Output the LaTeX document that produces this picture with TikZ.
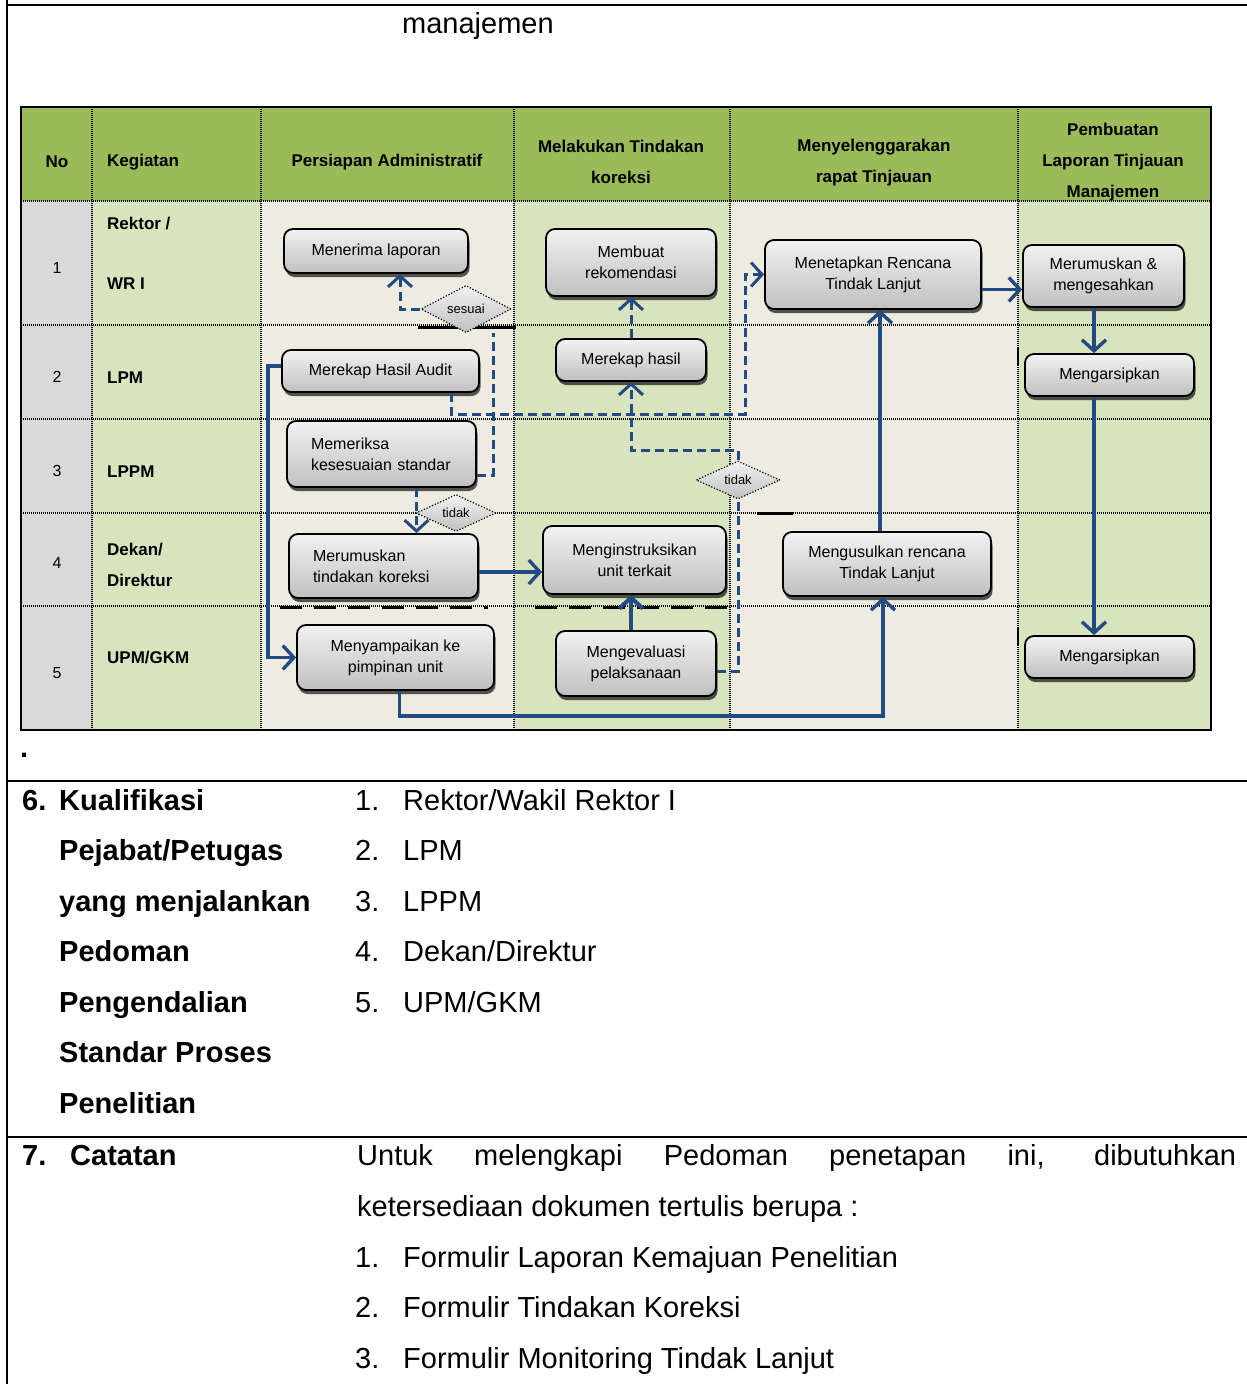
\documentclass[tikz,border=0pt]{standalone}
\usepackage{fontspec}
\setmainfont{Liberation Sans}
\usetikzlibrary{arrows.meta,shapes.geometric,shadows,calc}
\definecolor{hdr}{RGB}{155,187,89}
\definecolor{lgreen}{RGB}{215,228,189}
\definecolor{beige}{RGB}{238,236,225}
\definecolor{lgray}{RGB}{217,217,217}
\definecolor{flow}{RGB}{35,75,130}
\definecolor{boxtop}{RGB}{242,242,242}
\definecolor{boxbot}{RGB}{192,192,192}
\begin{document}
\begin{tikzpicture}[x=1pt,y=-1pt,
  gridline/.style={line width=1.1pt, dash pattern=on 1pt off 1pt},
  box/.style={draw=black, line width=1.8pt, rounded corners=9pt, top color=boxtop, bottom color=boxbot,
    align=center, font=\fontsize{16}{21}\selectfont, inner sep=0pt,
    drop shadow={shadow xshift=1.5pt, shadow yshift=-4pt, opacity=0.65, fill=black}},
  dia/.style={diamond, draw=black, line width=1.2pt, dash pattern=on 1.2pt off 1.8pt, top color=boxtop, bottom color=boxbot,
    inner sep=0pt, font=\fontsize{13}{15}\selectfont},
  hd/.style={font=\bfseries\fontsize{17}{31}\selectfont, align=center, inner sep=0pt},
  rl/.style={font=\bfseries\fontsize{17}{20}\selectfont, anchor=west, inner sep=0pt},
  num/.style={font=\fontsize{16}{20}\selectfont, inner sep=0pt},
  conn/.style={draw=flow, line width=3.4pt, -{Straight Barb[length=11pt,width=24pt]}},
  dconn/.style={conn, line width=3pt, dash pattern=on 9pt off 5pt},
  dplain/.style={draw=flow, line width=3pt, dash pattern=on 9pt off 5pt},
  artifact/.style={draw=black, line width=3pt},
  big/.style={font=\fontsize{29}{35}\selectfont, inner sep=0pt, anchor=base west},
  bigb/.style={font=\bfseries\fontsize{29}{35}\selectfont, inner sep=0pt, anchor=base west}
]
\useasboundingbox (0,0) rectangle (1247,1384);
\fill[white] (0,0) rectangle (1247,1384);

% outer frame
\draw[line width=2pt] (7,0) -- (7,1384);
\draw[line width=2pt] (7,5) -- (1247,5);
\draw[line width=2pt] (7,781) -- (1247,781);
\draw[line width=2pt] (7,1137) -- (1247,1137);

\node[font=\fontsize{29}{35}\selectfont, inner sep=0pt, anchor=base west] (mgm) at (402,33) {manajemen};

% table background
\fill[hdr] (21,107) rectangle (1211,201);
\fill[lgray] (21,201) rectangle (92,730);
\fill[lgreen] (92,201) rectangle (261,730);
\fill[beige] (261,201) rectangle (514,730);
\fill[lgreen] (514,201) rectangle (730,730);
\fill[beige] (730,201) rectangle (1018,730);
\fill[lgreen] (1018,201) rectangle (1211,730);
\foreach \y in {201,325,419,513,606} \draw[gridline] (21,\y) -- (1211,\y);
\foreach \x in {92,261,514,730,1018} \draw[gridline] (\x,107) -- (\x,730);
\draw[line width=2.2pt] (21,107) rectangle (1211,730);

% artifacts (black bars on borders)
\draw[artifact] (418,327) -- (516,327);
\draw[artifact] (436,513) -- (418,513);
\draw[artifact] (757,513) -- (793,513);
\draw[artifact, dash pattern=on 22pt off 12pt] (280,607) -- (488,607);
\draw[artifact, dash pattern=on 22pt off 12pt] (535,607) -- (738,607);
\draw[artifact, line width=2pt] (1018,348) -- (1018,366);
\draw[artifact, line width=2pt] (1018,628) -- (1018,645);

% header
\node[hd] (hno) at (57,162) {No};
\node[hd, anchor=west] (hkg) at (107,162) {Kegiatan};
\node[hd] (hpa) at (387,162) {Persiapan Administratif};
\node[hd] (hmt) at (621,162) {Melakukan Tindakan\\koreksi};
\node[hd] (hmr) at (874,163) {Menyelenggarakan\\rapat Tinjauan};
\node[hd] (hpl) at (1113,162) {Pembuatan\\Laporan Tinjauan\\Manajemen};

% row labels
\node[num] (n1) at (57,268) {1};
\node[num] (n2) at (57,377) {2};
\node[num] (n3) at (57,471) {3};
\node[num] (n4) at (57,563) {4};
\node[num] (n5) at (57,673) {5};
\node[rl] (r1a) at (107,224) {Rektor /};
\node[rl] (r1b) at (107,284) {WR I};
\node[rl] (r2) at (107,378) {LPM};
\node[rl] (r3) at (107,472) {LPPM};
\node[rl] (r4a) at (107,550) {Dekan/};
\node[rl] (r4b) at (107,580) {Direktur};
\node[rl] (r5) at (107,658) {UPM/GKM};

% boxes
\node[box, minimum width=184pt, minimum height=44pt] (ml) at (376,251) {Menerima laporan};
\node[box, minimum width=170pt, minimum height=67pt] (mr) at (631,262.5) {Membuat\\rekomendasi};
\node[box, minimum width=216pt, minimum height=69pt] (mt) at (873,274.5) {Menetapkan Rencana\\Tindak Lanjut};
\node[box, minimum width=161pt, minimum height=62pt] (mm) at (1103.5,276) {Merumuskan \&\\mengesahkan};
\node[box, minimum width=197pt, minimum height=42pt] (mha) at (380.5,371) {Merekap Hasil Audit};
\node[box, minimum width=150pt, minimum height=42pt] (mh) at (631,360) {Merekap hasil};
\node[box, minimum width=169pt, minimum height=42pt] (ma1) at (1109.5,375) {Mengarsipkan};
\node[box, minimum width=189pt, minimum height=66pt, text width=141pt, align=left] (mk) at (381.5,454) {Memeriksa\\kesesuaian standar};
\node[box, minimum width=189pt, minimum height=64pt, text width=141pt, align=left] (mtk) at (383.5,566) {Merumuskan\\tindakan koreksi};
\node[box, minimum width=183pt, minimum height=68pt] (mi) at (634.5,560) {Menginstruksikan\\unit terkait};
\node[box, minimum width=208pt, minimum height=64pt] (mu) at (887,564) {Mengusulkan rencana\\Tindak Lanjut};
\node[box, minimum width=197pt, minimum height=65pt] (ms) at (395.5,657.5) {Menyampaikan ke\\pimpinan unit};
\node[box, minimum width=160pt, minimum height=65pt] (me) at (636,663.5) {Mengevaluasi\\pelaksanaan};
\node[box, minimum width=169pt, minimum height=42pt] (ma2) at (1109.5,657) {Mengarsipkan};

% diamonds
\node[dia, minimum width=90pt, minimum height=36pt] (ses) at (466,309) {sesuai};
\node[dia, minimum width=80pt, minimum height=30pt] (td1) at (456,513) {tidak};
\node[dia, minimum width=84pt, minimum height=38pt] (td2) at (738,480) {tidak};

% coordinates
\coordinate (c1) at (745,414);
\coordinate (c2) at (631,450);
\coordinate (c3) at (268,600);
\coordinate (c4) at (883,716);
\coordinate (c5) at (1094,330);

% dashed connectors
\draw[dconn] (ses.west) -| ([xshift=24pt]ml.south);
\draw[dplain] ([yshift=-21pt]mk.east) -| ([xshift=27pt]ses.south);
\draw[dconn] ([xshift=71pt]mha.south) |- (c1) |- (mt.west);
\draw[dconn] (mh.north) -- (mh.north |- mr.south);
\draw[dconn] (td2.north) |- (c2) -- (mh.south);
\draw[dplain] ([yshift=-8pt]me.east) -| (td2.south);
\draw[dconn] ([xshift=35pt]mk.south) -- ([xshift=35pt]mk.south |- mtk.north);

% solid connectors
\draw[conn] ([yshift=-6pt]mtk.east) -- ([yshift=-6pt]mtk.east -| mi.west);
\draw[conn, line width=4pt] ([xshift=-5pt]me.north) -- ([xshift=-5pt]me.north |- mi.south);
\draw[conn] ([yshift=5pt]mha.west) -| (c3) |- (ms.west);
\draw[conn] ([xshift=4pt]ms.south) |- (c4) -- (c4 |- mu.south);
\draw[conn] ([xshift=-7pt]mu.north) -- ([xshift=-7pt]mu.north |- mt.south);
\draw[conn] ([yshift=-15pt]mt.east) -- ([yshift=-15pt]mt.east -| mm.west);
\draw[conn] (mm.south -| c5) -- (ma1.north -| c5);
\draw[conn] (ma1.south -| c5) -- (ma2.north -| c5);

% lower section
\node[bigb] (dot) at (20,757) {.};
\node[bigb] (s6) at (22,810) {6.};
\node[bigb] (q1) at (59,810) {Kualifikasi};
\node[bigb] (q2) at (59,860.5) {Pejabat/Petugas};
\node[bigb] (q3) at (59,911) {yang menjalankan};
\node[bigb] (q4) at (59,961.5) {Pedoman};
\node[bigb] (q5) at (59,1012) {Pengendalian};
\node[bigb] (q6) at (59,1062.5) {Standar Proses};
\node[bigb] (q7) at (59,1113) {Penelitian};
\node[big] (l1n) at (355,810) {1.};
\node[big] (l1) at (403,810) {Rektor/Wakil Rektor I};
\node[big] (l2n) at (355,860.5) {2.};
\node[big] (l2) at (403,860.5) {LPM};
\node[big] (l3n) at (355,911) {3.};
\node[big] (l3) at (403,911) {LPPM};
\node[big] (l4n) at (355,961.5) {4.};
\node[big] (l4) at (403,961.5) {Dekan/Direktur};
\node[big] (l5n) at (355,1012) {5.};
\node[big] (l5) at (403,1012) {UPM/GKM};

\node[bigb] (s7) at (22,1165) {7.};
\node[bigb] (cat) at (70,1165) {Catatan};
\node[big] (t1) at (357,1165) {\makebox[879pt][s]{Untuk melengkapi Pedoman penetapan ini, dibutuhkan}};
\node[big] (t2) at (357,1216) {ketersediaan dokumen tertulis berupa :};
\node[big] (f1n) at (355,1267) {1.};
\node[big] (f1) at (403,1267) {Formulir Laporan Kemajuan Penelitian};
\node[big] (f2n) at (355,1317) {2.};
\node[big] (f2) at (403,1317) {Formulir Tindakan Koreksi};
\node[big] (f3n) at (355,1368) {3.};
\node[big] (f3) at (403,1368) {Formulir Monitoring Tindak Lanjut};
\end{tikzpicture}
\end{document}
